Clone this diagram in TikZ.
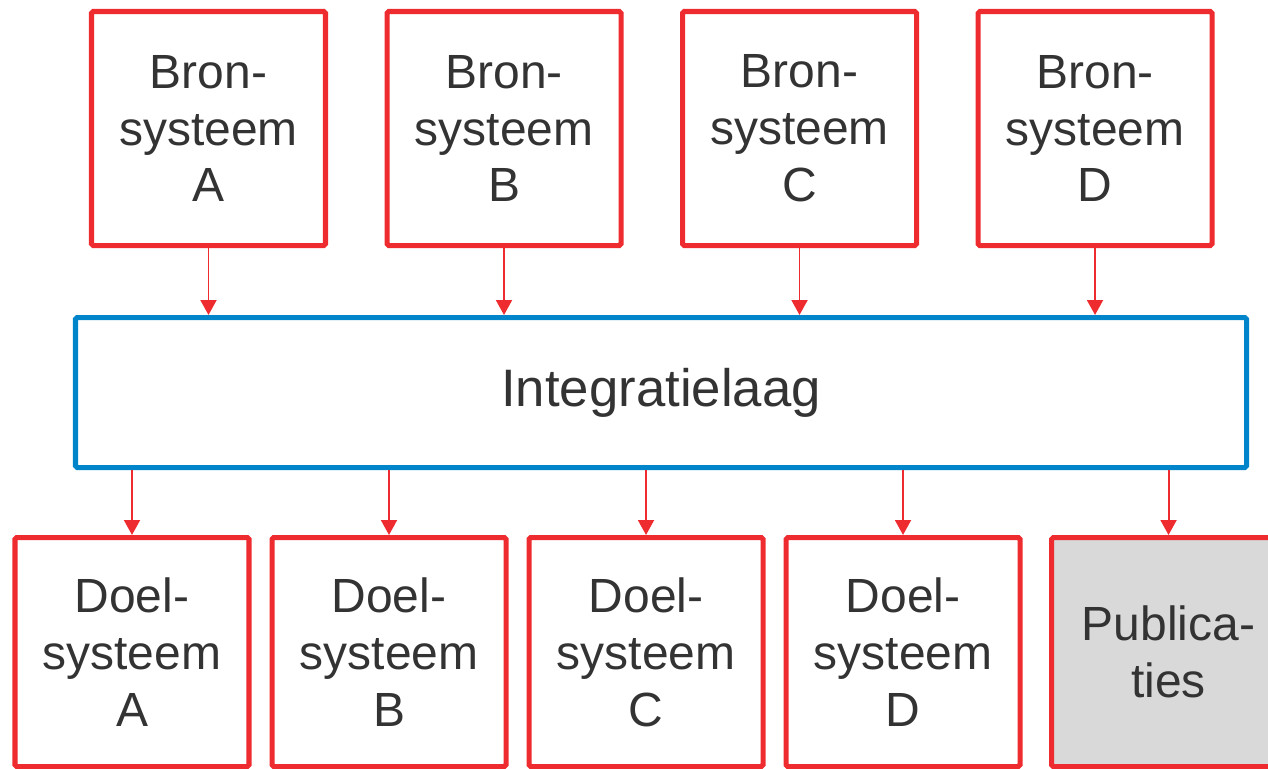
\documentclass[tikz,border=0pt]{standalone}
\usepackage{fontspec}
\setmainfont{Liberation Sans}
\usepackage{xcolor}
\definecolor{sysred}{HTML}{EE2C30}
\definecolor{laagblue}{HTML}{0085CA}
\definecolor{txtgray}{HTML}{333333}
\definecolor{pubgray}{HTML}{D9D9D9}
\usepackage{tikz}
\usetikzlibrary{arrows.meta,positioning}

\begin{document}
\begin{tikzpicture}[-{Triangle[length=0.3cm,width=0.32cm]},line width=1.1pt]
            \tikzstyle{sys}=[draw=sysred,line width=2.85pt,rounded corners=1pt,fill=white,text=txtgray,align=center,
                             minimum width=4.68cm,font=\fontsize{27.3}{32.4}\selectfont]
            \tikzstyle{bron}=[sys,minimum height=4.68cm]
            \tikzstyle{doel}=[sys,minimum height=4.58cm]
            \tikzstyle{laag}=[draw=laagblue,line width=2.85pt,rounded corners=1pt,text=txtgray,
                              minimum width=23.42cm,minimum height=3cm,font=\fontsize{30}{36}\selectfont]
            \tikzstyle{pijl}=[draw=sysred,color=sysred]

            \useasboundingbox (0,0) rectangle (25.36,-15.38);

            \node[bron] (bronA) at (4.17,-2.57)        {Bron-\\systeem\\A};
            \node[bron] (bronB) [right=1.13cm of bronA] {Bron-\\systeem\\B};
            \node[bron] (bronC) [right=1.13cm of bronB] {Bron-\\systeem\\C};
            \node[bron] (bronD) [right=1.13cm of bronC] {Bron-\\systeem\\D};

            \node[laag] (laag) at (13.22,-7.85) {Integratielaag};

            \node[doel] (doelA) at (2.64,-13.04)        {Doel-\\systeem\\A};
            \node[doel] (doelB) [right=0.36cm of doelA] {Doel-\\systeem\\B};
            \node[doel] (doelC) [right=0.36cm of doelB] {Doel-\\systeem\\C};
            \node[doel] (doelD) [right=0.36cm of doelC] {Doel-\\systeem\\D};
            \node[doel,fill=pubgray] (pub) [right=0.53cm of doelD] {Publica-\\ties};

            \foreach \b in {bronA,bronB,bronC,bronD}
                \draw[pijl] (\b.south) -- (\b.south |- laag.north);
            \foreach \d in {doelA,doelB,doelC,doelD,pub}
                \draw[pijl] (laag.south -| \d.north) -- (\d.north);

        \end{tikzpicture}
\end{document}
